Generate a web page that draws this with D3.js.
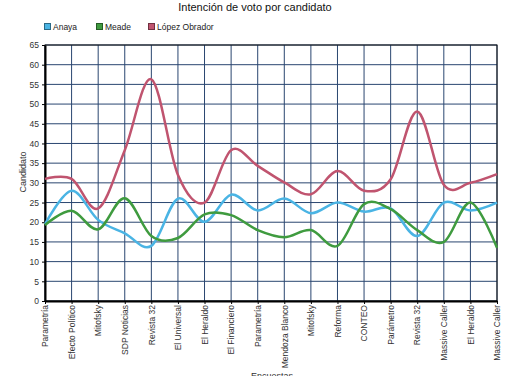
<!DOCTYPE html>
<html><head><meta charset="utf-8">
<script src="https://cdn.jsdelivr.net/npm/d3@7"></script>
<style>body{margin:0;background:#fff}svg{display:block;font-family:"Liberation Sans",Arial,sans-serif}</style>
</head><body><svg id="c" width="512" height="376"></svg>
<script>
const categories = ["Parametría","Efecto Político","Mitofsky","SDP Noticias","Revista 32","El Universal","El Heraldo","El Financiero","Parametría","Mendoza Blanco","Mitofsky","Reforma","CONTEO","Parámetro","Revista 32","Massive Caller","El Heraldo","Massive Caller"];
const anaya = [19.5,28,20.6,17.2,14,26,20.1,27,23,26,22.3,25,22.7,23.5,16.5,25,23,25];
const meade = [19.3,22.9,18.2,26.1,16.5,16,22,21.8,18,16.2,18,14,24.6,23.3,18,15,25,13.5];
const lopez = [31,31,23.5,38.3,56.3,32,25,38.3,34.3,30.1,27.1,33,28,30.9,48.1,29.5,30,32.2];
const seriesNames = ["Anaya","Meade","López Obrador"];
const colors = ["#4ab4e4","#3f9b3f","#c0546f"];
const yTicks = d3.range(0,66,5);

const svg = d3.select("#c");
const m = {l:45, r:497, t:45, b:301};
const x = d3.scalePoint().domain(d3.range(categories.length)).range([m.l,m.r]);
const y = d3.scaleLinear().domain([0,65]).range([m.b,m.t]);

// title
svg.append("text").attr("x",255).attr("y",11).attr("text-anchor","middle")
  .attr("font-size",11).attr("fill","#111").text("Intención de voto por candidato");

// legend
const legX = [44,96,148];
seriesNames.forEach((n,i)=>{
  const g = svg.append("g").attr("transform",`translate(${legX[i]},23)`);
  g.append("rect").attr("x",0.5).attr("y",0.5).attr("width",6).attr("height",6)
    .attr("fill",colors[i]).attr("stroke",d3.color(colors[i]).darker(1.5));
  g.append("text").attr("x",9).attr("y",6.5).attr("font-size",8.5).attr("fill","#222").text(n);
});

// grid
const grid = svg.append("g").attr("stroke","#2a4670").attr("stroke-width",1);
yTicks.forEach(t=>grid.append("line").attr("x1",m.l).attr("x2",m.r).attr("y1",y(t)).attr("y2",y(t)));
categories.forEach((c,i)=>grid.append("line").attr("x1",x(i)).attr("x2",x(i)).attr("y1",m.t).attr("y2",m.b));

// frame
svg.append("rect").attr("x",m.l).attr("y",m.t).attr("width",m.r-m.l).attr("height",m.b-m.t)
  .attr("fill","none").attr("stroke","#111").attr("stroke-width",1);

// axes
const yAxis = svg.append("g").attr("transform",`translate(${m.l},0)`)
  .call(d3.axisLeft(y).tickValues(yTicks).tickSize(3).tickSizeOuter(0));
yAxis.select(".domain").attr("stroke","#000").attr("stroke-width",2);
yAxis.selectAll("text").attr("font-size",8.5).attr("fill","#333").attr("font-family","Liberation Sans, Arial, sans-serif");

const xAxis = svg.append("g").attr("transform",`translate(0,${m.b})`)
  .call(d3.axisBottom(x).tickFormat(i=>categories[i]).tickSize(3).tickSizeOuter(0));
xAxis.select(".domain").attr("stroke","#000").attr("stroke-width",2);
xAxis.selectAll("text").attr("font-size",8.5).attr("fill","#333")
  .attr("font-family","Liberation Sans, Arial, sans-serif")
  .attr("transform","rotate(-90)").attr("text-anchor","end")
  .attr("x",-4).attr("y",0).attr("dy","0.32em");

// axis titles
svg.append("text").attr("transform","translate(26,172) rotate(-90)").attr("text-anchor","middle")
  .attr("font-size",9).attr("fill","#333").text("Candidato");
svg.append("text").attr("x",272).attr("y",379).attr("text-anchor","middle")
  .attr("font-size",9).attr("fill","#333").text("Encuestas");

// lines
const line = d3.line().x((d,i)=>x(i)).y(d=>y(d)).curve(d3.curveCardinal.tension(0));
[anaya,meade,lopez].forEach((s,i)=>{
  svg.append("path").datum(s).attr("d",line).attr("fill","none")
    .attr("stroke",colors[i]).attr("stroke-width",2.5);
});
</script></body></html>
